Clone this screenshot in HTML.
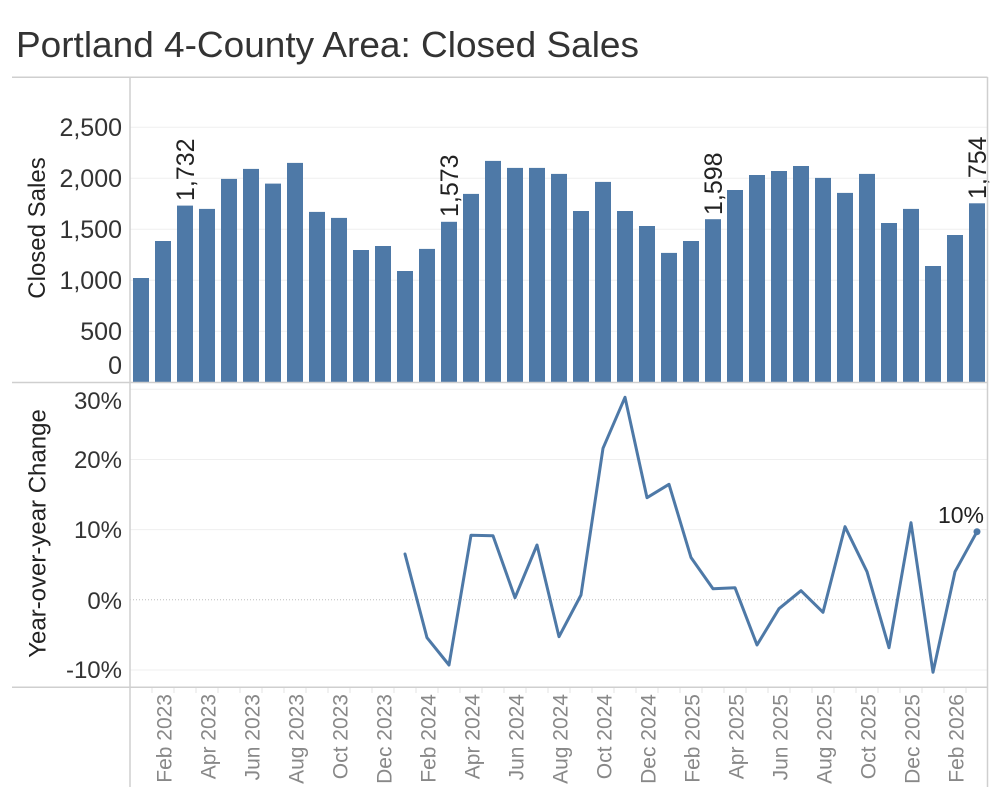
<!DOCTYPE html>
<html>
<head>
<meta charset="utf-8">
<style>
  html, body { margin:0; padding:0; background:#fff; }
  svg { display:block; font-family:"Liberation Sans", sans-serif; }
</style>
</head>
<body>
<svg width="1000" height="800" viewBox="0 0 1000 800" xmlns="http://www.w3.org/2000/svg">
  <!-- Title -->
  <text x="16" y="57" font-size="36.5" fill="#333" textLength="623" lengthAdjust="spacingAndGlyphs">Portland 4-County Area: Closed Sales</text>

  <!-- Gridlines top panel -->
  <g stroke="#efefef" stroke-width="1">
    <line x1="130" x2="987" y1="127.3" y2="127.3"/>
    <line x1="130" x2="987" y1="178.3" y2="178.3"/>
    <line x1="130" x2="987" y1="229.3" y2="229.3"/>
    <line x1="130" x2="987" y1="280.3" y2="280.3"/>
    <line x1="130" x2="987" y1="331.3" y2="331.3"/>
  </g>
  <!-- Gridlines bottom panel -->
  <g stroke="#efefef" stroke-width="1">
    <line x1="130" x2="987" y1="389.3" y2="389.3"/>
    <line x1="130" x2="987" y1="459.5" y2="459.5"/>
    <line x1="130" x2="987" y1="529.6" y2="529.6"/>
    <line x1="130" x2="987" y1="670" y2="670"/>
  </g>
  <line x1="130" x2="987" y1="599.8" y2="599.8" stroke="#bdbdbd" stroke-width="1" stroke-dasharray="1,2"/>

  <!-- Bars -->
  <g fill="#4e79a7">
    <rect x="133" y="278.0" width="16" height="104.0"/>
    <rect x="155" y="241.0" width="16" height="141.0"/>
    <rect x="177" y="205.6" width="16" height="176.4"/>
    <rect x="199" y="208.9" width="16" height="173.1"/>
    <rect x="221" y="178.9" width="16" height="203.1"/>
    <rect x="243" y="168.9" width="16" height="213.1"/>
    <rect x="265" y="183.6" width="16" height="198.4"/>
    <rect x="287" y="162.9" width="16" height="219.1"/>
    <rect x="309" y="211.9" width="16" height="170.1"/>
    <rect x="331" y="217.9" width="16" height="164.1"/>
    <rect x="353" y="250.0" width="16" height="132.0"/>
    <rect x="375" y="246.0" width="16" height="136.0"/>
    <rect x="397" y="271.0" width="16" height="111.0"/>
    <rect x="419" y="248.9" width="16" height="133.1"/>
    <rect x="441" y="221.8" width="16" height="160.2"/>
    <rect x="463" y="193.9" width="16" height="188.1"/>
    <rect x="485" y="160.9" width="16" height="221.1"/>
    <rect x="507" y="167.9" width="16" height="214.1"/>
    <rect x="529" y="167.9" width="16" height="214.1"/>
    <rect x="551" y="173.9" width="16" height="208.1"/>
    <rect x="573" y="211.0" width="16" height="171.0"/>
    <rect x="595" y="181.9" width="16" height="200.1"/>
    <rect x="617" y="211.0" width="16" height="171.0"/>
    <rect x="639" y="226.0" width="16" height="156.0"/>
    <rect x="661" y="252.9" width="16" height="129.1"/>
    <rect x="683" y="241.0" width="16" height="141.0"/>
    <rect x="705" y="219.2" width="16" height="162.8"/>
    <rect x="727" y="190.0" width="16" height="192.0"/>
    <rect x="749" y="175.0" width="16" height="207.0"/>
    <rect x="771" y="171.0" width="16" height="211.0"/>
    <rect x="793" y="166.0" width="16" height="216.0"/>
    <rect x="815" y="177.9" width="16" height="204.1"/>
    <rect x="837" y="192.9" width="16" height="189.1"/>
    <rect x="859" y="173.9" width="16" height="208.1"/>
    <rect x="881" y="223.0" width="16" height="159.0"/>
    <rect x="903" y="208.9" width="16" height="173.1"/>
    <rect x="925" y="266.0" width="16" height="116.0"/>
    <rect x="947" y="235.0" width="16" height="147.0"/>
    <rect x="969" y="203.3" width="16" height="178.7"/>
  </g>

  <!-- Bar labels -->
  <g font-size="25" fill="#222">
    <text transform="translate(194,201) rotate(-90)">1,732</text>
    <text transform="translate(458,217) rotate(-90)">1,573</text>
    <text transform="translate(722,215) rotate(-90)">1,598</text>
    <text transform="translate(986,199) rotate(-90)">1,754</text>
  </g>

  <!-- Line -->
  <polyline fill="none" stroke="#4e79a7" stroke-width="3" stroke-linejoin="round" stroke-linecap="round"
    points="405,554 427,637.7 449,665 471,535.3 493,535.7 515,597.7 537,545 559,636.7 581,595 603,448.3 625,397.3 647,497.7 669,484.3 691,557.5 713,588.7 735,587.7 757,645 779,608.7 801,590.7 823,612.3 845,526.7 867,571.7 889,647.7 911,522.7 933,672.3 955,571.7 977,531.7"/>
  <circle cx="977" cy="531.7" r="3.5" fill="#4e79a7"/>
  <text x="961" y="523" font-size="23" fill="#222" text-anchor="middle">10%</text>

  <!-- Borders -->
  <g stroke="#cfcfcf" stroke-width="1.5" fill="none">
    <line x1="12" x2="987.5" y1="77.3" y2="77.3"/>
    <line x1="12" x2="987.5" y1="382.5" y2="382.5"/>
    <line x1="12" x2="987.5" y1="687.3" y2="687.3"/>
    <line x1="130" x2="130" y1="77" y2="787"/>
    <line x1="987.5" x2="987.5" y1="77" y2="787"/>
  </g>

  <!-- x ticks -->
  <g stroke="#e3e3e3" stroke-width="1">
    <line x1="152" x2="152" y1="688" y2="693"/><line x1="174" x2="174" y1="688" y2="693"/>
    <line x1="196" x2="196" y1="688" y2="693"/><line x1="218" x2="218" y1="688" y2="693"/>
    <line x1="240" x2="240" y1="688" y2="693"/><line x1="262" x2="262" y1="688" y2="693"/>
    <line x1="284" x2="284" y1="688" y2="693"/><line x1="306" x2="306" y1="688" y2="693"/>
    <line x1="328" x2="328" y1="688" y2="693"/><line x1="350" x2="350" y1="688" y2="693"/>
    <line x1="372" x2="372" y1="688" y2="693"/><line x1="394" x2="394" y1="688" y2="693"/>
    <line x1="416" x2="416" y1="688" y2="693"/><line x1="438" x2="438" y1="688" y2="693"/>
    <line x1="460" x2="460" y1="688" y2="693"/><line x1="482" x2="482" y1="688" y2="693"/>
    <line x1="504" x2="504" y1="688" y2="693"/><line x1="526" x2="526" y1="688" y2="693"/>
    <line x1="548" x2="548" y1="688" y2="693"/><line x1="570" x2="570" y1="688" y2="693"/>
    <line x1="592" x2="592" y1="688" y2="693"/><line x1="614" x2="614" y1="688" y2="693"/>
    <line x1="636" x2="636" y1="688" y2="693"/><line x1="658" x2="658" y1="688" y2="693"/>
    <line x1="680" x2="680" y1="688" y2="693"/><line x1="702" x2="702" y1="688" y2="693"/>
    <line x1="724" x2="724" y1="688" y2="693"/><line x1="746" x2="746" y1="688" y2="693"/>
    <line x1="768" x2="768" y1="688" y2="693"/><line x1="790" x2="790" y1="688" y2="693"/>
    <line x1="812" x2="812" y1="688" y2="693"/><line x1="834" x2="834" y1="688" y2="693"/>
    <line x1="856" x2="856" y1="688" y2="693"/><line x1="878" x2="878" y1="688" y2="693"/>
    <line x1="900" x2="900" y1="688" y2="693"/><line x1="922" x2="922" y1="688" y2="693"/>
    <line x1="944" x2="944" y1="688" y2="693"/><line x1="966" x2="966" y1="688" y2="693"/>
  </g>

  <!-- Y axis ticks top -->
  <g font-size="25" fill="#333" text-anchor="end">
    <text x="122" y="136">2,500</text>
    <text x="122" y="187">2,000</text>
    <text x="122" y="238">1,500</text>
    <text x="122" y="289">1,000</text>
    <text x="122" y="340">500</text>
    <text x="122" y="374">0</text>
  </g>
  <!-- Y axis ticks bottom -->
  <g font-size="24" fill="#333" text-anchor="end">
    <text x="122" y="409">30%</text>
    <text x="122" y="468">20%</text>
    <text x="122" y="538">10%</text>
    <text x="122" y="609">0%</text>
    <text x="122" y="678">-10%</text>
  </g>

  <!-- Axis titles -->
  <text transform="translate(45,228) rotate(-90)" font-size="24" fill="#222" text-anchor="middle">Closed Sales</text>
  <text transform="translate(45.5,533.5) rotate(-90)" font-size="24" fill="#222" text-anchor="middle">Year-over-year Change</text>

  <!-- X labels -->
  <g font-size="21" fill="#888" text-anchor="end">
    <text transform="translate(171.5,694) rotate(-90)">Feb 2023</text>
    <text transform="translate(215.5,694) rotate(-90)">Apr 2023</text>
    <text transform="translate(259.5,694) rotate(-90)">Jun 2023</text>
    <text transform="translate(303.5,694) rotate(-90)">Aug 2023</text>
    <text transform="translate(347.5,694) rotate(-90)">Oct 2023</text>
    <text transform="translate(391.5,694) rotate(-90)">Dec 2023</text>
    <text transform="translate(435.5,694) rotate(-90)">Feb 2024</text>
    <text transform="translate(479.5,694) rotate(-90)">Apr 2024</text>
    <text transform="translate(523.5,694) rotate(-90)">Jun 2024</text>
    <text transform="translate(567.5,694) rotate(-90)">Aug 2024</text>
    <text transform="translate(611.5,694) rotate(-90)">Oct 2024</text>
    <text transform="translate(655.5,694) rotate(-90)">Dec 2024</text>
    <text transform="translate(699.5,694) rotate(-90)">Feb 2025</text>
    <text transform="translate(743.5,694) rotate(-90)">Apr 2025</text>
    <text transform="translate(787.5,694) rotate(-90)">Jun 2025</text>
    <text transform="translate(831.5,694) rotate(-90)">Aug 2025</text>
    <text transform="translate(875.5,694) rotate(-90)">Oct 2025</text>
    <text transform="translate(919.5,694) rotate(-90)">Dec 2025</text>
    <text transform="translate(963.5,694) rotate(-90)">Feb 2026</text>
  </g>
</svg>
</body>
</html>
